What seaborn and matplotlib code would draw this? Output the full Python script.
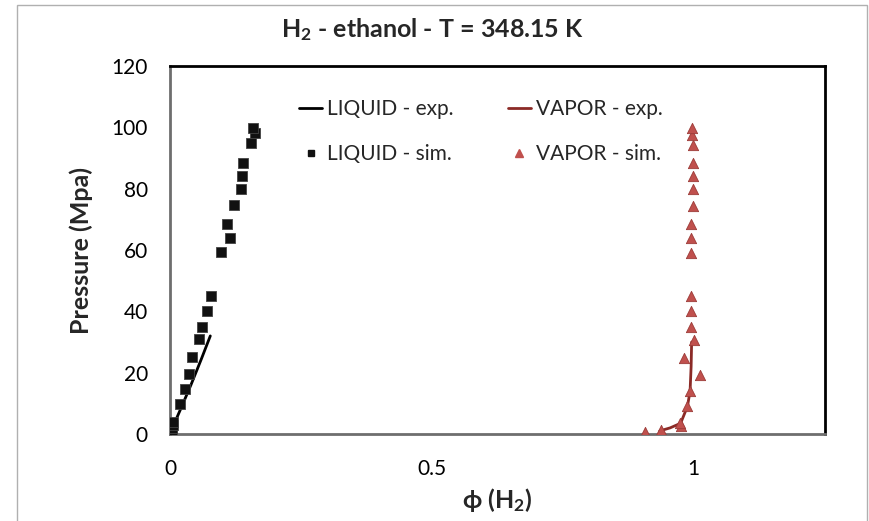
import matplotlib
matplotlib.use("Agg")
import matplotlib.pyplot as plt
import seaborn as sns
import pandas as pd
from matplotlib.lines import Line2D
from matplotlib.patches import Rectangle

# ---- data ----
liq_exp_x = [0.002, 0.020, 0.040, 0.060, 0.077]
liq_exp_p = [1.0, 8.0, 16.0, 24.5, 32.0]

vap_exp_x = [0.935, 0.955, 0.975, 0.988, 0.993, 0.995, 0.996]
vap_exp_p = [1.0, 2.0, 3.5, 9.0, 14.0, 22.0, 30.0]

liq_sim_x = [0.003, 0.004, 0.005, 0.006, 0.0185, 0.029, 0.037, 0.043, 0.055, 0.062,
             0.071, 0.078, 0.098, 0.115, 0.109, 0.122, 0.136, 0.138, 0.139, 0.155,
             0.1625, 0.158]
liq_sim_p = [1.0, 2.0, 3.0, 4.0, 9.8, 14.7, 19.6, 25.1, 30.9, 35.0,
             40.1, 45.0, 59.4, 64.1, 68.6, 74.7, 80.0, 84.2, 88.5, 94.8,
             98.2, 99.7]

vap_sim_x = [0.906, 0.937, 0.976, 0.974, 0.988, 0.993, 1.012, 0.981, 1.000, 0.994,
             0.995, 0.995, 0.995, 0.995, 0.995, 0.998, 0.998, 0.998, 0.998, 0.998,
             0.996, 0.996]
vap_sim_p = [0.5, 1.3, 2.6, 3.7, 9.1, 14.1, 19.2, 24.9, 30.6, 34.8,
             40.1, 45.0, 59.2, 64.1, 68.4, 74.3, 79.8, 84.1, 88.3, 94.2,
             97.5, 99.7]

x_ticks = [0, 0.5, 1]
y_ticks = [0, 20, 40, 60, 80, 100, 120]

title = r"$\mathbf{H_2}$ - ethanol - T = 348.15 K"
xlabel = r"ϕ ($\mathbf{H_2}$)"
ylabel = "Pressure (Mpa)"

# ---- style ----
sns.set_style("white")
plt.rcParams["font.family"] = ["Lato", "DejaVu Sans"]
plt.rcParams["mathtext.fontset"] = "custom"
plt.rcParams["mathtext.rm"] = "Lato"
plt.rcParams["mathtext.bf"] = "Lato:bold"

fig = plt.figure(figsize=(8.69, 5.21), dpi=100)
ax = fig.add_axes([0.1956, 0.167, 0.7534, 0.706])

liq_exp = pd.DataFrame({"x": liq_exp_x, "p": liq_exp_p})
vap_exp = pd.DataFrame({"x": vap_exp_x, "p": vap_exp_p})
liq_sim = pd.DataFrame({"x": liq_sim_x, "p": liq_sim_p})
vap_sim = pd.DataFrame({"x": vap_sim_x, "p": vap_sim_p})

liq_col = "black"
vap_line_col = "#8b2a26"
vap_mark_col = "#c0504d"

sns.lineplot(data=liq_exp, x="x", y="p", sort=False, color=liq_col, lw=2.0, ax=ax)
sns.lineplot(data=vap_exp, x="x", y="p", sort=False, color=vap_line_col, lw=2.0, ax=ax)
sns.scatterplot(data=liq_sim, x="x", y="p", marker="s", s=50, color="#111111",
                edgecolor="#444444", linewidth=0.6, ax=ax, zorder=3)
sns.scatterplot(data=vap_sim, x="x", y="p", marker="^", s=55, color=vap_mark_col,
                edgecolor="#9c3b38", linewidth=0.6, ax=ax, zorder=3)

ax.set_xlim(0, 1.25)
ax.set_ylim(0, 120)
ax.set_xticks(x_ticks)
ax.set_xticklabels(["0", "0.5", "1"])
ax.set_yticks(y_ticks)
ax.tick_params(axis="both", direction="in", length=4, width=1, color="#8c8c8c",
               labelsize=15, labelcolor="black")
ax.tick_params(axis="x", pad=18)
ax.tick_params(axis="y", pad=16)

for side in ["top", "right"]:
    ax.spines[side].set_color("black")
    ax.spines[side].set_linewidth(2)
for side in ["left", "bottom"]:
    ax.spines[side].set_color("#6e6e6e")
    ax.spines[side].set_linewidth(2)
for s in ax.spines.values():
    s.set_visible(True)

fig.text(432 / 869, 1 - 30 / 521, title, fontsize=18, fontweight="bold",
         ha="center", va="center")
ax.set_xlabel(xlabel, fontsize=18, fontweight="bold", labelpad=5)
ax.set_ylabel(ylabel, fontsize=18, fontweight="bold", labelpad=13)

handles = [
    Line2D([], [], color=liq_col, lw=2),
    Line2D([], [], color="#111111", marker="s", ls="none", markersize=5),
    Line2D([], [], color=vap_line_col, lw=2),
    Line2D([], [], color=vap_mark_col, marker="^", ls="none", markersize=6),
]
labels = ["LIQUID - exp.", "LIQUID - sim.", "VAPOR - exp.", "VAPOR - sim."]
ax.legend(handles, labels, ncol=2, frameon=False, loc="upper center",
          bbox_to_anchor=(0.475, 0.962), fontsize=15, handlelength=1.1,
          handletextpad=0.25, labelspacing=1.2, columnspacing=2.6)

fig.add_artist(Rectangle((17 / 869, -0.01), 850 / 869, 1 - 5 / 521 + 0.01,
                         transform=fig.transFigure, fill=False,
                         edgecolor="#b0b0b0", lw=1))

fig.savefig("out.png", dpi=100)
